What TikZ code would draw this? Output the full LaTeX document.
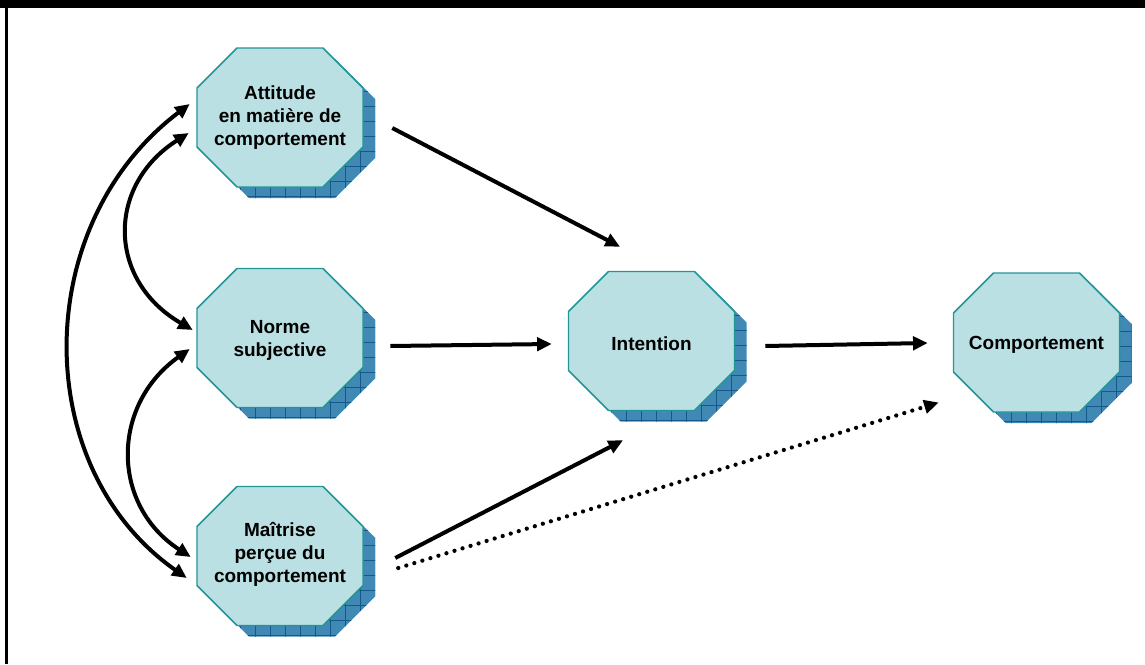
\documentclass[tikz,border=0pt]{standalone}
\usepackage{fontspec}
\setmainfont{Liberation Sans}
\usetikzlibrary{arrows.meta,calc}
\definecolor{octfill}{RGB}{186,224,227}
\definecolor{octline}{RGB}{34,150,150}
\definecolor{shadowfill}{RGB}{64,137,180}
\definecolor{shadowgrid}{RGB}{22,88,140}

\tikzset{
  oct/.style={fill=octfill, draw=octline, line width=1.1pt, line join=miter},
  octtext/.style={minimum width=124.5pt, minimum height=104.25pt, inner sep=0pt,
    align=center, font=\bfseries\fontsize{14.25}{17.25}\selectfont},
  arr/.style={line width=3pt, -{Triangle[length=11pt,width=10pt]}},
  arrboth/.style={line width=3pt, {Triangle[length=11pt,width=10pt]}-{Triangle[length=11pt,width=10pt]}},
  dots/.style={line width=3.2pt, line cap=round, dash pattern=on 0pt off 6.3pt,
    -{Triangle[length=11pt,width=10pt]}},
}

% octagonal box with a gridded drop shadow: [text offset], name, x, y, text
\newcommand\octbox[5][2.5]{%
  \begin{scope}[shift={(#3,#4)}]
    \begin{scope}
      \clip (-31,-58.5) -- (55,-58.5) -- (95,-18.5) -- (95,40.5) -- (55,80.5)
            -- (-31,80.5) -- (-71,40.5) -- (-71,-18.5) -- cycle;
      \fill[shadowfill] (-80,-70) rectangle (100,90);
      \foreach \k in {-55,-40,...,95}
        \draw[shadowgrid, line width=0.6pt] (\k,-70) -- (\k,90);
      \foreach \k in {-55.8,-40.8,-25.8,-10.8,4.2,19.2,34.2,49.2,64.2,79.2}
        \draw[shadowgrid, line width=0.6pt] (-80,\k) -- (100,\k);
    \end{scope}
    \path[oct] (-43,-69.5) -- (43,-69.5) -- (83,-29.5) -- (83,29.5) -- (43,69.5)
          -- (-43,69.5) -- (-83,29.5) -- (-83,-29.5) -- cycle;
    \node[octtext] (#2) at (0,0) {};
    \node[octtext] at (0,#1) {#5};
  \end{scope}}

\begin{document}
\begin{tikzpicture}[x=0.75pt, y=-0.75pt]
  \useasboundingbox (0,0) rectangle (1145,664);
  % frame
  \fill[black] (0,0) rectangle (1145,7.5);
  \fill[black] (5,0) rectangle (7.8,664);

  \octbox[0]{att}{280}{117.5}{Attitude\\en matière de\\comportement}
  \octbox{nor}{280}{338}{Norme\\subjective}
  \octbox[-2]{mai}{280}{556}{Maîtrise\\perçue du\\comportement}
  \octbox{int}{651.5}{341}{Intention}
  \octbox{comp}{1036.5}{342.5}{Comportement}

  % causal paths
  \draw[arr] ($(att.east)+(29,10.5)$) -- ($(int.north)+(-31.5,-24.5)$);
  \draw[arr] ($(nor.east)+(27,8)$) -- ($(int.west)+(-16.5,3)$);
  \draw[arr] ($(mai.east)+(32,2)$) -- ($(int.south)+(-28.5,29.5)$);
  \draw[arr] ($(int.east)+(30.5,5)$) -- ($(comp.west)+(-25.5,0.5)$);
  \draw[dots] ($(mai.east)+(35,12)$) -- ($(comp.west)+(-14.5,60)$);

  % correlations between the antecedents
  \draw[arrboth] ($(att.west)+(-8,15.5)$) .. controls +(-82,52) and +(-86,-50) .. ($(nor.west)+(-4,-8)$);
  \draw[arrboth] ($(nor.west)+(-7,11)$) .. controls +(-79,56) and +(-80,-52) .. ($(mai.west)+(-6,1)$);
  \draw[arrboth] ($(att.west)+(-7,-13.5)$) .. controls +(-160,121) and +(-157,-110) .. ($(mai.west)+(-10,22)$);
\end{tikzpicture}
\end{document}
